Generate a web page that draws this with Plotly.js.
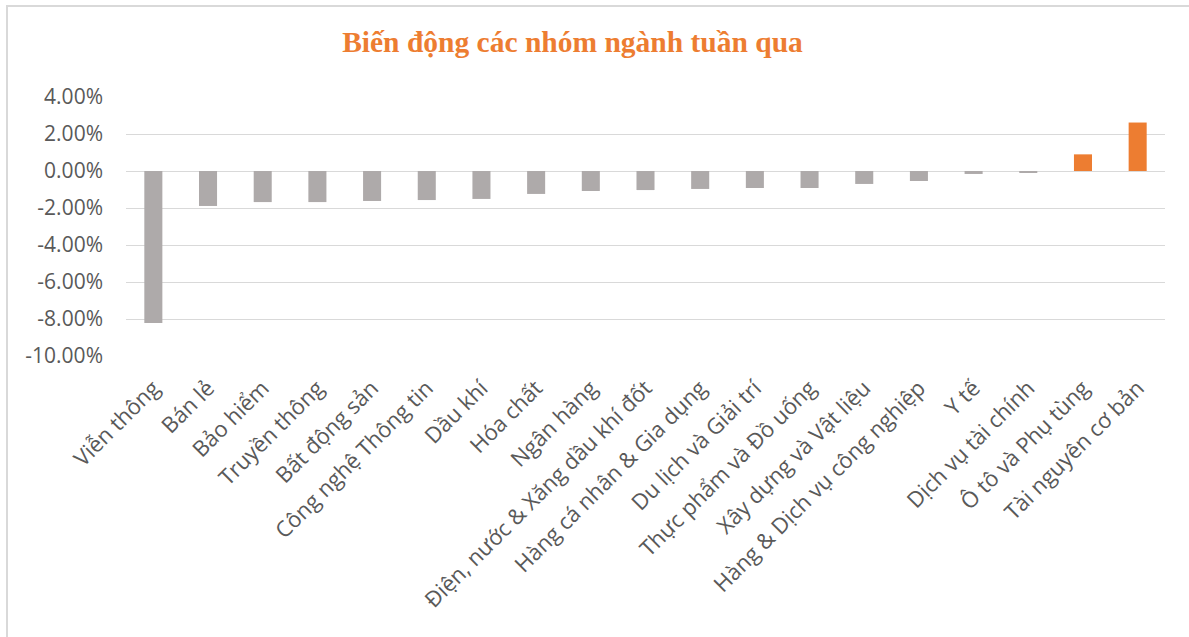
<!DOCTYPE html>
<html>
<head>
<meta charset="utf-8">
<script src="https://cdn.plot.ly/plotly-3.0.1.min.js"></script>
<style>
  html, body { margin: 0; padding: 0; background: #fff; }
  #wrap { position: relative; width: 1189px; height: 637px; overflow: hidden; }
  #plot { width: 1189px; height: 637px; }
  .edge-top { position: absolute; left: 6px; top: 5px; width: 1183px; height: 2px; background: #d9d9d9; }
  .edge-left { position: absolute; left: 6px; top: 5px; width: 2px; height: 632px; background: #d9d9d9; }
</style>
</head>
<body>
<div id="wrap">
  <div id="plot"></div>
  <div class="edge-top"></div>
  <div class="edge-left"></div>
</div>
<script>
// Nhóm ngành (trục X)
const nganh = [
  'Viễn thông', 'Bán lẻ', 'Bảo hiểm', 'Truyền thông', 'Bất động sản',
  'Công nghệ Thông tin', 'Dầu khí', 'Hóa chất', 'Ngân hàng',
  'Điện, nước & Xăng dầu khí đốt', 'Hàng cá nhân & Gia dụng',
  'Du lịch và Giải trí', 'Thực phẩm và Đồ uống', 'Xây dựng và Vật liệu',
  'Hàng & Dịch vụ công nghiệp', 'Y tế', 'Dịch vụ tài chính',
  'Ô tô và Phụ tùng', 'Tài nguyên cơ bản'
];

// Biến động tuần (%)
const bienDong = [
  -8.22, -1.89, -1.68, -1.68, -1.62,
  -1.57, -1.51, -1.24, -1.08,
  -1.03, -0.97,
  -0.92, -0.92, -0.70,
  -0.54, -0.16, -0.09,
  0.90, 2.62
];

const yTicks = [4, 2, 0, -2, -4, -6, -8, -10];

const GRAY = '#aeaaaa', ORANGE = '#ed7d31';
const barColors = bienDong.map(v => v >= 0 ? ORANGE : GRAY);

const trace = {
  x: nganh,
  y: bienDong,
  type: 'bar',
  marker: { color: barColors },
  hoverinfo: 'x+y'
};

Plotly.newPlot('plot', [trace], {
  width: 1189,
  height: 637,
  margin: { l: 126, r: 24, t: 97, b: 281 },
  paper_bgcolor: 'rgba(0,0,0,0)',
  plot_bgcolor: '#fff',
  bargap: 0.67,
  showlegend: false,
  font: { family: 'Open Sans, sans-serif', color: '#595959', size: 21 },
  title: {
    text: 'Biến động các nhóm ngành tuần qua',
    font: { family: 'Liberation Serif, serif', size: 29.5, color: ORANGE, weight: 'bold' },
    xref: 'container', x: 0.4815, xanchor: 'center',
    yref: 'container', y: 0.934, yanchor: 'middle'
  },
  xaxis: {
    type: 'category',
    tickangle: -45,
    showgrid: false,
    showline: false,
    zeroline: false,
    ticks: '',
    ticklabelstandoff: 14,
    tickfont: { size: 22, color: '#595959' }
  },
  yaxis: {
    range: [-10, 4],
    tickvals: yTicks,
    ticktext: yTicks.map(v => v.toFixed(2) + '%'),
    showgrid: true,
    gridcolor: '#d9d9d9',
    gridwidth: 1.3,
    zeroline: false,
    showline: false,
    ticks: '',
    ticklabelstandoff: 22,
    tickfont: { size: 21, color: '#595959' }
  }
}, { displayModeBar: false, responsive: false });
</script>
</body>
</html>
